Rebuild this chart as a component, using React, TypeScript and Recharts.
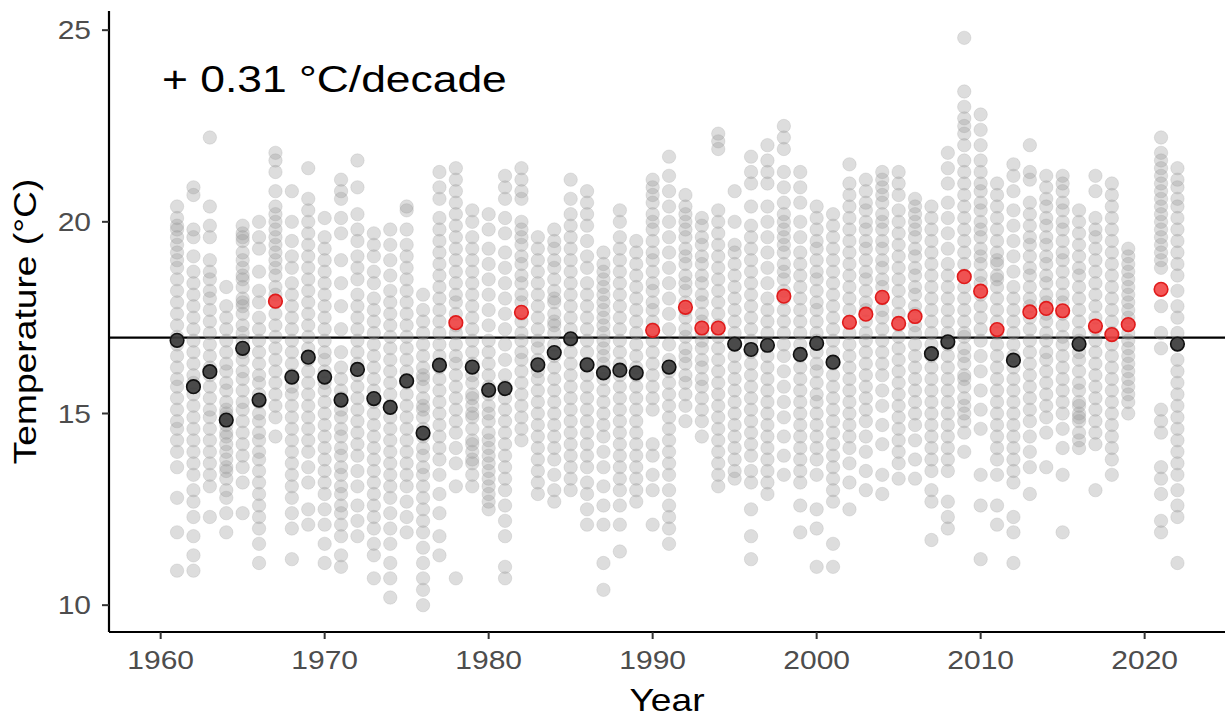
import { ScatterChart, Scatter, XAxis, YAxis, ReferenceLine } from "recharts";

// years with data (no 2020 in the record)
const years = [
  1961, 1962, 1963, 1964, 1965, 1966, 1967, 1968, 1969,
  1970, 1971, 1972, 1973, 1974, 1975, 1976, 1977, 1978, 1979,
  1980, 1981, 1982, 1983, 1984, 1985, 1986, 1987, 1988, 1989,
  1990, 1991, 1992, 1993, 1994, 1995, 1996, 1997, 1998, 1999,
  2000, 2001, 2002, 2003, 2004, 2005, 2006, 2007, 2008, 2009,
  2010, 2011, 2012, 2013, 2014, 2015, 2016, 2017, 2018, 2019,
  2021, 2022,
];

const yearMeans = [
  16.91, 15.7, 16.09, 14.83, 16.7, 15.35, 17.93, 15.95, 16.47,
  15.95, 15.35, 16.15, 15.39, 15.16, 15.85, 14.49, 16.26, 17.37, 16.21,
  15.61, 15.65, 17.64, 16.27, 16.59, 16.95, 16.27, 16.06, 16.13, 16.06,
  17.17, 16.21, 17.77, 17.23, 17.23, 16.81, 16.67, 16.78, 18.06, 16.54,
  16.83, 16.34, 17.38, 17.59, 18.03, 17.35, 17.53, 16.56, 16.87, 18.57,
  18.19, 17.19, 16.39, 17.65, 17.74, 17.68, 16.81, 17.28, 17.06, 17.32,
  18.24, 16.81,
];

const baseline = 16.98;
const trendLabel = "+ 0.31 °C/decade";
const xTicks = [1960, 1970, 1980, 1990, 2000, 2010, 2020];
const yTicks = [10, 15, 20, 25];

// daily temperatures, one list per year
const daily1960s = [
  [20.4, 20.1, 19.9, 19.8, 19.6, 19.4, 19.2, 19.0, 18.8, 18.5, 18.2, 17.9, 17.6, 17.3, 17.0, 16.8, 16.5, 16.2, 15.9, 15.7, 15.4, 15.1, 14.8, 14.6, 14.3, 14.0, 13.6, 12.8, 11.9, 10.9],
  [20.9, 20.7, 19.8, 19.6, 19.1, 18.7, 18.4, 18.1, 17.8, 17.5, 17.2, 16.9, 16.6, 16.3, 16.0, 15.8, 15.5, 15.2, 14.9, 14.6, 14.3, 14.0, 13.7, 13.4, 13.0, 12.7, 12.3, 11.8, 11.3, 10.9],
  [22.2, 20.4, 19.9, 19.6, 19.0, 18.7, 18.5, 18.2, 18.0, 17.7, 17.4, 17.1, 16.8, 16.5, 16.2, 16.0, 15.7, 15.4, 15.1, 14.9, 14.6, 14.3, 14.0, 13.7, 13.4, 13.1, 12.3],
  [18.3, 17.8, 17.5, 17.2, 16.9, 16.6, 16.3, 16.1, 15.8, 15.6, 15.3, 15.1, 14.9, 14.7, 14.4, 14.2, 14.0, 13.8, 13.5, 13.3, 13.0, 12.8, 12.4, 11.9, 13.6, 14.5, 15.0],
  [19.9, 19.7, 19.6, 19.5, 19.2, 19.0, 18.8, 18.6, 18.5, 18.3, 18.0, 17.9, 17.8, 17.6, 17.3, 17.1, 16.9, 16.6, 16.4, 16.1, 15.9, 15.6, 15.3, 15.1, 14.8, 14.5, 14.2, 13.9, 13.6, 13.2, 12.4],
  [20.0, 19.6, 19.3, 18.7, 18.2, 17.9, 17.5, 17.2, 16.9, 16.6, 16.3, 16.0, 15.8, 15.5, 15.3, 15.0, 14.8, 14.5, 14.3, 14.0, 13.8, 13.5, 13.2, 12.9, 12.6, 12.3, 12.0, 11.6, 11.1],
  [21.8, 21.6, 21.3, 20.8, 20.4, 20.2, 20.0, 19.8, 19.6, 19.4, 19.2, 19.0, 18.8, 18.6, 18.3, 18.1, 17.9, 17.6, 17.3, 17.0, 16.7, 16.4, 16.1, 15.8, 15.5, 15.2, 14.9, 14.4],
  [20.8, 20.0, 19.5, 19.1, 18.8, 18.4, 18.1, 17.8, 17.5, 17.2, 16.9, 16.6, 16.3, 16.0, 15.7, 15.5, 15.2, 14.9, 14.6, 14.3, 14.0, 13.7, 13.4, 13.1, 12.8, 12.4, 12.0, 11.2],
  [21.4, 20.6, 20.3, 20.0, 19.7, 19.4, 19.1, 18.8, 18.5, 18.2, 17.9, 17.6, 17.3, 17.0, 16.7, 16.4, 16.1, 15.8, 15.5, 15.2, 14.9, 14.6, 14.3, 14.0, 13.6, 13.2, 12.5, 12.1],
];

const daily1970s = [
  [20.1, 19.6, 19.3, 19.0, 18.7, 18.4, 18.1, 17.8, 17.5, 17.2, 16.9, 16.6, 16.4, 16.1, 15.8, 15.6, 15.3, 15.0, 14.7, 14.4, 14.1, 13.8, 13.5, 13.2, 12.9, 12.5, 12.1, 11.6, 11.1],
  [21.1, 20.8, 20.6, 20.1, 19.7, 19.0, 18.4, 17.8, 17.2, 16.6, 16.2, 15.9, 15.6, 15.4, 15.1, 14.9, 14.6, 14.4, 14.1, 13.9, 13.6, 13.4, 13.1, 12.9, 12.6, 12.4, 12.1, 11.8, 11.3, 11.0],
  [21.6, 20.9, 20.2, 19.8, 19.5, 19.1, 18.8, 18.5, 18.1, 17.8, 17.5, 17.2, 16.9, 16.6, 16.3, 16.0, 15.7, 15.4, 15.1, 14.8, 14.5, 14.2, 13.9, 13.5, 13.1, 12.6, 12.2, 11.8],
  [19.7, 19.4, 19.1, 18.7, 18.4, 18.0, 17.7, 17.4, 17.1, 16.8, 16.5, 16.2, 15.9, 15.6, 15.3, 15.0, 14.7, 14.4, 14.1, 13.8, 13.5, 13.2, 12.9, 12.6, 12.3, 12.0, 11.6, 11.3, 10.7],
  [19.8, 19.4, 19.0, 18.6, 18.2, 17.9, 17.6, 17.3, 17.0, 16.7, 16.4, 16.1, 15.8, 15.5, 15.2, 14.9, 14.6, 14.3, 14.0, 13.7, 13.4, 13.1, 12.8, 12.4, 12.0, 11.6, 11.1, 10.7, 10.2],
  [20.4, 20.3, 19.8, 19.4, 19.1, 18.8, 18.5, 18.2, 17.9, 17.6, 17.3, 17.0, 16.7, 16.4, 16.1, 15.8, 15.5, 15.2, 14.9, 14.6, 14.3, 14.0, 13.7, 13.4, 13.1, 12.7, 12.3, 11.9],
  [18.1, 17.7, 17.4, 17.1, 16.8, 16.5, 16.2, 15.9, 15.7, 15.4, 15.1, 14.9, 14.6, 14.4, 14.1, 13.9, 13.6, 13.4, 13.1, 12.8, 12.5, 12.2, 11.9, 11.5, 11.1, 10.7, 10.4, 10.0, 16.0, 15.2],
  [21.3, 20.9, 20.6, 20.1, 19.8, 19.5, 19.2, 18.9, 18.6, 18.3, 18.0, 17.7, 17.4, 17.1, 16.8, 16.5, 16.2, 15.9, 15.6, 15.3, 15.0, 14.7, 14.4, 14.1, 13.8, 13.4, 12.9, 12.4, 11.8, 11.3],
  [21.4, 21.1, 20.8, 20.5, 20.2, 19.9, 19.6, 19.3, 19.0, 18.7, 18.4, 18.1, 17.9, 17.6, 17.3, 17.1, 16.8, 16.5, 16.3, 16.0, 15.7, 15.4, 15.1, 14.8, 14.5, 14.1, 13.7, 13.1, 10.7],
  [20.3, 20.0, 19.6, 19.3, 19.0, 18.7, 18.4, 18.1, 17.8, 17.5, 17.2, 16.9, 16.6, 16.3, 16.0, 15.8, 15.5, 15.4, 15.2, 15.0, 14.9, 14.6, 14.3, 14.2, 14.0, 13.8, 13.7, 13.4, 13.1],
];

const daily1980s = [
  [20.2, 19.8, 19.3, 18.9, 18.5, 18.1, 17.7, 17.3, 16.9, 16.6, 16.3, 16.0, 15.7, 15.5, 15.2, 15.0, 14.8, 14.5, 14.3, 14.1, 13.9, 13.7, 13.5, 13.3, 13.1, 12.9, 12.7, 12.5],
  [21.2, 20.9, 20.6, 20.1, 19.7, 19.2, 18.8, 18.4, 18.0, 17.6, 17.2, 16.8, 16.4, 16.0, 15.7, 15.4, 15.1, 14.8, 14.5, 14.2, 13.9, 13.6, 13.3, 13.0, 12.6, 12.2, 11.8, 11.0, 10.7],
  [21.4, 21.1, 20.8, 20.6, 20.0, 19.8, 19.6, 19.4, 19.1, 18.9, 18.6, 18.4, 18.1, 17.9, 17.6, 17.4, 17.1, 16.9, 16.6, 16.4, 16.1, 15.8, 15.5, 15.2, 14.9, 14.6, 14.3],
  [19.6, 19.3, 19.0, 18.7, 18.4, 18.1, 17.8, 17.5, 17.2, 16.9, 16.7, 16.4, 16.1, 15.9, 15.6, 15.3, 15.0, 14.7, 14.4, 14.1, 13.8, 13.5, 13.2, 12.9],
  [19.8, 19.5, 19.3, 19.0, 18.8, 18.5, 18.2, 18.0, 17.9, 17.6, 17.4, 17.3, 17.1, 16.8, 16.5, 16.2, 15.9, 15.6, 15.3, 15.0, 14.7, 14.4, 14.1, 13.8, 13.4, 13.0, 12.7],
  [21.1, 20.6, 20.2, 19.9, 19.6, 19.3, 19.0, 18.7, 18.4, 18.1, 17.8, 17.5, 17.2, 16.9, 16.6, 16.3, 16.0, 15.7, 15.4, 15.1, 14.8, 14.5, 14.2, 13.9, 13.6, 13.3, 13.0],
  [20.8, 20.5, 20.2, 19.9, 19.5, 19.1, 18.8, 18.4, 18.1, 17.8, 17.5, 17.2, 16.9, 16.6, 16.3, 16.0, 15.7, 15.4, 15.1, 14.8, 14.5, 14.2, 13.9, 13.6, 13.2, 12.9, 12.5, 12.1],
  [19.2, 18.9, 18.7, 18.5, 18.3, 18.1, 17.9, 17.7, 17.5, 17.3, 17.1, 16.9, 16.7, 16.5, 16.3, 16.1, 15.9, 15.6, 15.3, 15.0, 14.7, 14.4, 14.0, 13.6, 13.1, 12.6, 12.1, 11.1, 10.4],
  [20.3, 20.0, 19.6, 19.3, 19.0, 18.7, 18.4, 18.1, 17.8, 17.5, 17.2, 16.9, 16.6, 16.3, 16.0, 15.7, 15.4, 15.1, 14.8, 14.5, 14.2, 13.9, 13.6, 13.3, 13.0, 12.6, 12.1, 11.4],
  [19.5, 19.2, 18.9, 18.6, 18.3, 18.0, 17.7, 17.4, 17.1, 16.8, 16.5, 16.2, 16.0, 15.7, 15.4, 15.1, 14.8, 14.5, 14.2, 13.9, 13.6, 13.3, 13.0, 12.7],
];

const daily1990s = [
  [21.1, 20.9, 20.7, 20.5, 20.2, 20.0, 19.8, 19.5, 19.2, 19.0, 18.7, 18.4, 18.2, 17.9, 17.7, 17.4, 17.2, 16.9, 16.6, 16.3, 16.0, 15.7, 15.4, 15.1, 14.2, 13.9, 13.4, 13.0, 12.1],
  [21.7, 21.2, 20.8, 20.4, 20.0, 19.6, 19.2, 18.8, 18.4, 18.0, 17.6, 17.2, 16.8, 16.4, 16.1, 15.8, 15.5, 15.2, 14.9, 14.6, 14.3, 14.0, 13.7, 13.4, 13.0, 12.6, 12.3, 12.0, 11.6],
  [20.7, 20.4, 20.2, 20.0, 19.8, 19.6, 19.3, 19.1, 18.9, 18.6, 18.4, 18.2, 17.9, 17.7, 17.5, 17.2, 17.0, 16.7, 16.5, 16.3, 16.0, 15.8, 15.5, 15.2, 14.8],
  [20.1, 19.9, 19.6, 19.4, 19.1, 18.9, 18.6, 18.4, 18.1, 17.9, 17.6, 17.4, 17.1, 16.9, 16.7, 16.4, 16.2, 15.9, 15.7, 15.4, 15.1, 14.8, 14.4],
  [22.3, 22.1, 21.9, 20.3, 20.0, 19.7, 19.4, 19.1, 18.8, 18.5, 18.2, 17.9, 17.6, 17.3, 17.0, 16.7, 16.4, 16.1, 15.8, 15.5, 15.2, 14.9, 14.6, 14.3, 14.0, 13.7, 13.4, 13.1],
  [20.8, 20.0, 19.4, 19.2, 18.9, 18.6, 18.3, 18.0, 17.7, 17.4, 17.1, 16.8, 16.5, 16.2, 15.9, 15.6, 15.3, 15.0, 14.7, 14.4, 14.1, 13.8, 13.5, 13.3],
  [21.7, 21.3, 21.0, 20.4, 19.9, 19.6, 19.3, 19.0, 18.7, 18.4, 18.1, 17.8, 17.5, 17.2, 16.9, 16.6, 16.3, 16.0, 15.7, 15.4, 15.1, 14.8, 14.5, 14.2, 13.9, 13.5, 13.2, 12.5, 11.8, 11.2],
  [22.0, 21.6, 21.3, 21.0, 20.4, 20.0, 19.6, 19.2, 18.8, 18.4, 18.0, 17.7, 17.4, 17.1, 16.8, 16.5, 16.2, 15.9, 15.6, 15.3, 15.0, 14.7, 14.4, 14.1, 13.8, 13.5, 13.2, 12.9],
  [22.5, 22.2, 21.9, 21.3, 20.9, 20.5, 20.2, 20.0, 19.8, 19.6, 19.4, 19.2, 18.9, 18.7, 18.5, 18.2, 18.0, 17.7, 17.4, 17.1, 16.8, 16.5, 16.1, 15.7, 15.3, 14.9, 14.4, 13.9, 13.4],
  [21.3, 20.9, 20.5, 20.0, 19.6, 19.2, 18.9, 18.6, 18.3, 18.0, 17.7, 17.4, 17.1, 16.8, 16.5, 16.2, 15.9, 15.6, 15.3, 15.0, 14.7, 14.4, 14.1, 13.8, 13.5, 13.2, 12.6, 11.9],
];

const daily2000s = [
  [20.4, 20.1, 19.8, 19.5, 19.3, 19.0, 18.7, 18.5, 18.2, 17.9, 17.7, 17.4, 17.1, 16.9, 16.6, 16.3, 16.1, 15.8, 15.5, 15.3, 15.0, 14.7, 14.4, 14.1, 13.8, 13.4, 12.5, 12.0, 11.0],
  [20.2, 19.9, 19.6, 19.3, 19.0, 18.7, 18.4, 18.1, 17.8, 17.5, 17.2, 16.9, 16.6, 16.3, 16.0, 15.7, 15.4, 15.1, 14.8, 14.5, 14.2, 13.9, 13.6, 13.3, 13.0, 12.7, 11.6, 11.0],
  [21.5, 21.0, 20.7, 20.4, 20.1, 19.8, 19.5, 19.2, 18.9, 18.6, 18.3, 18.0, 17.7, 17.4, 17.1, 16.8, 16.5, 16.2, 15.9, 15.6, 15.3, 15.0, 14.7, 14.4, 14.1, 13.7, 13.2, 12.5],
  [21.1, 20.8, 20.5, 20.3, 20.0, 19.8, 19.5, 19.3, 19.0, 18.7, 18.5, 18.2, 17.9, 17.7, 17.4, 17.1, 16.9, 16.6, 16.3, 16.0, 15.7, 15.4, 15.1, 14.8, 14.4, 14.0, 13.5, 13.0],
  [21.3, 21.1, 20.9, 20.7, 20.5, 20.2, 20.0, 19.8, 19.5, 19.3, 19.0, 18.8, 18.5, 18.3, 18.0, 17.7, 17.5, 17.2, 16.9, 16.6, 16.3, 16.0, 15.6, 15.2, 14.7, 14.2, 13.4, 12.9],
  [21.3, 21.0, 20.7, 20.3, 20.0, 19.7, 19.4, 19.1, 18.8, 18.5, 18.2, 17.9, 17.6, 17.3, 17.0, 16.7, 16.4, 16.1, 15.8, 15.5, 15.2, 14.9, 14.6, 14.3, 14.0, 13.7, 13.3],
  [20.6, 20.4, 20.2, 20.0, 19.8, 19.6, 19.3, 19.1, 18.8, 18.6, 18.3, 18.1, 17.8, 17.6, 17.3, 17.1, 16.8, 16.5, 16.2, 15.9, 15.6, 15.3, 15.0, 14.7, 14.3, 13.8, 13.3],
  [20.4, 20.1, 19.8, 19.5, 19.2, 18.9, 18.6, 18.3, 18.0, 17.7, 17.4, 17.1, 16.8, 16.5, 16.2, 15.9, 15.6, 15.3, 15.0, 14.7, 14.4, 14.1, 13.8, 13.5, 13.0, 12.7, 11.7],
  [21.8, 21.4, 21.0, 20.5, 20.1, 19.7, 19.3, 18.9, 18.6, 18.3, 18.0, 17.7, 17.4, 17.1, 16.8, 16.5, 16.2, 15.9, 15.6, 15.3, 15.0, 14.7, 14.4, 14.1, 13.8, 13.5, 12.7, 12.3, 12.0],
  [24.8, 23.4, 23.0, 22.7, 22.5, 22.3, 22.0, 21.6, 21.3, 21.0, 20.7, 20.4, 20.1, 19.8, 19.5, 19.2, 18.9, 18.6, 18.3, 18.0, 17.7, 17.4, 17.1, 17.0, 16.7, 16.5, 16.3, 16.0, 15.9, 15.7, 15.4, 15.2, 15.0, 14.8, 14.5, 14.0],
];

const daily2010s = [
  [22.8, 22.4, 22.0, 21.6, 21.3, 21.0, 20.8, 20.5, 20.3, 20.0, 19.8, 19.6, 19.3, 19.1, 18.9, 18.6, 18.4, 18.1, 17.8, 17.5, 17.2, 16.9, 16.5, 16.1, 15.6, 15.1, 14.6, 13.4, 12.6, 11.2],
  [21.0, 20.7, 20.4, 20.1, 19.8, 19.5, 19.2, 19.0, 18.9, 18.6, 18.5, 18.3, 18.0, 17.7, 17.4, 17.1, 16.8, 16.5, 16.2, 15.9, 15.6, 15.3, 15.0, 14.7, 14.4, 14.1, 13.8, 13.4, 12.6, 12.1],
  [21.5, 21.2, 20.8, 20.3, 19.9, 19.5, 19.1, 18.7, 18.3, 18.0, 17.7, 17.4, 17.1, 16.8, 16.5, 16.2, 15.9, 15.6, 15.3, 15.0, 14.7, 14.4, 14.1, 13.8, 13.5, 13.2, 12.3, 11.9, 11.1],
  [22.0, 21.3, 21.1, 20.5, 20.2, 19.9, 19.6, 19.4, 19.1, 18.8, 18.6, 18.3, 18.0, 17.8, 17.5, 17.2, 16.9, 16.6, 16.3, 16.0, 15.7, 15.4, 15.1, 14.8, 14.4, 14.0, 13.6, 12.9],
  [21.2, 20.9, 20.6, 20.4, 20.1, 19.9, 19.6, 19.4, 19.1, 18.9, 18.6, 18.4, 18.1, 17.9, 17.6, 17.4, 17.1, 16.9, 16.6, 16.4, 16.1, 15.8, 15.5, 15.2, 14.9, 14.5, 13.6],
  [21.2, 21.0, 20.8, 20.5, 20.3, 20.0, 19.8, 19.5, 19.2, 19.0, 18.7, 18.4, 18.1, 17.9, 17.6, 17.3, 17.0, 16.8, 16.5, 16.2, 15.9, 15.6, 15.3, 15.0, 14.6, 14.1, 13.4, 11.9],
  [20.3, 20.0, 19.7, 19.4, 19.1, 18.8, 18.6, 18.3, 18.0, 17.7, 17.4, 17.1, 16.9, 16.6, 16.4, 16.1, 15.8, 15.6, 15.3, 15.2, 15.0, 14.9, 14.8, 14.5, 14.3, 14.1],
  [21.2, 20.8, 20.1, 19.8, 19.6, 19.3, 19.0, 18.7, 18.4, 18.1, 17.8, 17.5, 17.2, 16.9, 16.6, 16.3, 16.0, 15.7, 15.4, 15.1, 14.8, 14.5, 14.2, 13.0],
  [21.0, 20.7, 20.4, 20.1, 19.8, 19.5, 19.2, 18.9, 18.6, 18.3, 18.0, 17.7, 17.4, 17.1, 16.8, 16.5, 16.2, 15.9, 15.6, 15.3, 15.0, 14.7, 14.4, 14.1, 13.8, 13.4],
  [19.3, 19.1, 18.9, 18.7, 18.5, 18.3, 18.1, 17.9, 17.7, 17.5, 17.3, 17.1, 16.9, 16.7, 16.5, 16.3, 16.1, 15.9, 15.7, 15.5, 15.3, 15.0],
];

const daily2020s = [
  [22.2, 21.8, 21.6, 21.4, 21.2, 21.0, 20.8, 20.6, 20.4, 20.2, 20.0, 19.8, 19.6, 19.4, 19.2, 19.0, 18.8, 17.8, 17.1, 16.7, 15.1, 14.8, 14.5, 13.6, 13.3, 12.9, 12.2, 11.9],
  [21.4, 21.1, 20.9, 20.6, 20.4, 20.1, 19.8, 19.5, 19.2, 18.9, 18.6, 18.2, 17.8, 17.5, 17.1, 16.8, 16.4, 16.1, 15.8, 15.5, 15.2, 14.9, 14.6, 14.3, 14.0, 13.7, 13.4, 13.0, 12.6, 12.3, 11.1],
];

const dailyByYear = [...daily1960s, ...daily1970s, ...daily1980s, ...daily1990s, ...daily2000s, ...daily2010s, ...daily2020s];

const greyPoints = years.flatMap((year, i) => dailyByYear[i].map((temp) => ({ year, temp })));
const meanPoints = years.map((year, i) => ({ year, temp: yearMeans[i] }));
const coolYears = meanPoints.filter((p) => p.temp <= baseline);
const warmYears = meanPoints.filter((p) => p.temp > baseline);

const FONT = "'Liberation Sans', Arial, sans-serif";
const STRETCH = "scale(1.2,1)";

function XTick({ x, y, payload }: any) {
  return (
    <g transform={`translate(${x},${y})`}>
      <text transform={STRETCH} textAnchor="middle" dy="0.72em" fontSize={25} fill="#4d4d4d" fontFamily={FONT}>
        {payload.value}
      </text>
    </g>
  );
}

function YTick({ x, y, payload }: any) {
  return (
    <g transform={`translate(${x},${y})`}>
      <text transform={STRETCH} textAnchor="end" dy="0.36em" fontSize={25} fill="#4d4d4d" fontFamily={FONT}>
        {payload.value}
      </text>
    </g>
  );
}

const GreyDot = (p: any) => (
  <circle cx={p.cx} cy={p.cy} r={6.7} fill="#969696" fillOpacity={0.32} stroke="#969696" strokeOpacity={0.22} strokeWidth={1} />
);
const CoolDot = (p: any) => (
  <circle cx={p.cx} cy={p.cy} r={6.8} fill="#3a3a3a" fillOpacity={0.9} stroke="#111" strokeWidth={1.6} />
);
const WarmDot = (p: any) => (
  <circle cx={p.cx} cy={p.cy} r={6.8} fill="#f23a3a" fillOpacity={0.85} stroke="#e01b1b" strokeWidth={1.6} />
);

export default function App() {
  return (
    <div style={{ position: "absolute", left: 0, top: 0, width: 1225, height: 719, background: "#fff" }}>
      <ScatterChart width={1225} height={719} margin={{ top: 11, right: 0, bottom: 0, left: 0 }}>
        <XAxis
          type="number"
          dataKey="year"
          domain={[1956.85, 2024.9]}
          ticks={xTicks}
          allowDataOverflow
          height={87}
          tickSize={7}
          tickMargin={12}
          tick={XTick}
          axisLine={{ stroke: "#000", strokeWidth: 2.2 }}
          tickLine={{ stroke: "#333", strokeWidth: 2 }}
        />
        <YAxis
          type="number"
          dataKey="temp"
          domain={[9.3, 25.5]}
          ticks={yTicks}
          allowDataOverflow
          width={109}
          tickSize={7}
          tickMargin={11}
          tick={YTick}
          axisLine={{ stroke: "#000", strokeWidth: 2.2 }}
          tickLine={{ stroke: "#333", strokeWidth: 2 }}
        />
        <Scatter data={greyPoints} shape={GreyDot} isAnimationActive={false} />
        <ReferenceLine y={baseline} stroke="#000" strokeWidth={2.2} />
        <Scatter data={coolYears} shape={CoolDot} isAnimationActive={false} />
        <Scatter data={warmYears} shape={WarmDot} isAnimationActive={false} />
      </ScatterChart>
      <svg width={1225} height={719} style={{ position: "absolute", left: 0, top: 0, pointerEvents: "none" }}>
        <text transform={`translate(162,92) ${STRETCH}`} fontSize={37} fill="#000" fontFamily={FONT}>
          {trendLabel}
        </text>
        <text transform={`translate(667,711) ${STRETCH}`} textAnchor="middle" fontSize={31} fill="#000" fontFamily={FONT}>
          Year
        </text>
        <text transform={`translate(36,321.5) rotate(-90) ${STRETCH}`} textAnchor="middle" fontSize={31} fill="#000" fontFamily={FONT}>
          Temperature (°C)
        </text>
      </svg>
    </div>
  );
}
